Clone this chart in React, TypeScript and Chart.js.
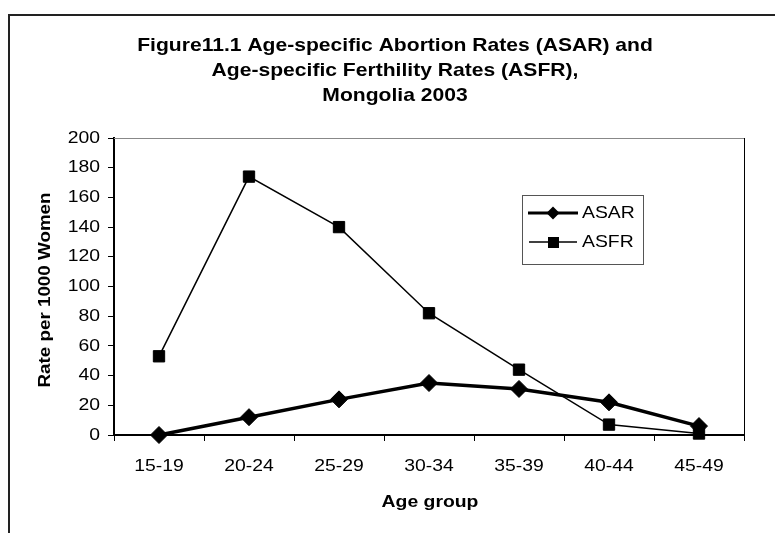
import React, { useEffect, useRef } from "react";
import { Chart, registerables } from "chart.js";

Chart.register(...registerables);

const ageGroups = ["15-19", "20-24", "25-29", "30-34", "35-39", "40-44", "45-49"];
const asarValues = [0, 12, 24, 35, 31, 22, 6];
const asfrValues = [53, 174, 140, 82, 44, 7, 1];
const seriesNames = ["ASAR", "ASFR"];
const titleLines = [
  "Figure11.1 Age-specific Abortion Rates (ASAR) and",
  "Age-specific Ferthility Rates (ASFR),",
  "Mongolia 2003",
];
const yAxisTitle = "Rate per 1000 Women";
const xAxisTitle = "Age group";
const yMin = 0;
const yMax = 200;
const yStep = 20;

const FONT = "'Liberation Sans', Arial, sans-serif";
const SX = 1.14; // horizontal stretch of text in the reference

function drawText(ctx: any, text: string, x: number, y: number, font: string, align: string, rot = 0) {
  ctx.save();
  ctx.translate(x, y);
  if (rot) ctx.rotate(rot);
  ctx.scale(SX, 1);
  ctx.font = font;
  ctx.textAlign = align;
  ctx.textBaseline = "middle";
  ctx.fillStyle = "#000";
  ctx.fillText(text, 0, 0);
  ctx.restore();
}

const decorPlugin = {
  id: "decor",
  beforeDraw(chart: any) {
    const ctx = chart.ctx;
    ctx.save();
    ctx.fillStyle = "#fff";
    ctx.fillRect(0, 0, chart.width, chart.height);
    ctx.strokeStyle = "#222";
    ctx.lineWidth = 2;
    ctx.beginPath();
    ctx.moveTo(9, 545);
    ctx.lineTo(9, 15);
    ctx.lineTo(790, 15);
    ctx.stroke();
    ctx.restore();
  },
  afterDraw(chart: any) {
    const ctx = chart.ctx;
    const a = chart.chartArea;
    const xs = chart.scales.x;
    const ys = chart.scales.y;
    ctx.save();
    // plot top / right border
    ctx.strokeStyle = "#888";
    ctx.lineWidth = 1;
    ctx.beginPath();
    ctx.moveTo(a.left, a.top + 0.5);
    ctx.lineTo(a.right, a.top + 0.5);
    ctx.stroke();
    ctx.strokeStyle = "#000";
    ctx.beginPath();
    ctx.moveTo(a.right + 0.5, a.top);
    ctx.lineTo(a.right + 0.5, a.bottom);
    ctx.stroke();

    // tick labels from the library's scales
    ys.ticks.forEach((t: any) => {
      const py = ys.getPixelForValue(t.value);
      drawText(ctx, String(t.value), 100, py, `17px ${FONT}`, "right");
    });
    xs.ticks.forEach((t: any, i: number) => {
      const px = xs.getPixelForValue(i);
      drawText(ctx, ageGroups[i], px, 466, `17px ${FONT}`, "center");
    });

    // title
    titleLines.forEach((t, i) => drawText(ctx, t, 395, 46 + i * 25, `bold 18.5px ${FONT}`, "center"));

    // axis titles
    drawText(ctx, xAxisTitle, 430, 502, `bold 17px ${FONT}`, "center");
    drawText(ctx, yAxisTitle, 45, 290, `bold 16.5px ${FONT}`, "center", -Math.PI / 2);

    // legend
    ctx.strokeStyle = "#555";
    ctx.lineWidth = 1;
    ctx.strokeRect(522.5, 195.5, 121, 69);
    ctx.strokeStyle = "#000";
    ctx.fillStyle = "#000";
    ctx.lineWidth = 3;
    ctx.beginPath();
    ctx.moveTo(528, 213);
    ctx.lineTo(578, 213);
    ctx.stroke();
    ctx.beginPath();
    ctx.moveTo(553, 206.5);
    ctx.lineTo(559.5, 213);
    ctx.lineTo(553, 219.5);
    ctx.lineTo(546.5, 213);
    ctx.closePath();
    ctx.fill();
    ctx.lineWidth = 1.5;
    ctx.beginPath();
    ctx.moveTo(529, 242);
    ctx.lineTo(577, 242);
    ctx.stroke();
    ctx.fillRect(548, 237, 11, 11);
    drawText(ctx, seriesNames[0], 582, 213, `17px ${FONT}`, "left");
    drawText(ctx, seriesNames[1], 582, 242, `17px ${FONT}`, "left");
    ctx.restore();
  },
};

export default function App() {
  const ref = useRef<HTMLCanvasElement>(null);
  useEffect(() => {
    if (!ref.current) return;
    const chart = new Chart(ref.current, {
      type: "line",
      data: {
        labels: ageGroups,
        datasets: [
          {
            label: seriesNames[0],
            data: asarValues,
            borderColor: "#000",
            backgroundColor: "#000",
            borderWidth: 3.5,
            pointStyle: "rectRot",
            pointRadius: 8.5,
            pointBorderWidth: 1,
            pointBackgroundColor: "#000",
            pointBorderColor: "#000",
            tension: 0,
            clip: false as any,
          },
          {
            label: seriesNames[1],
            data: asfrValues,
            borderColor: "#000",
            backgroundColor: "#000",
            borderWidth: 1.5,
            pointStyle: "rect",
            pointRadius: 8,
            pointBorderWidth: 1,
            pointBackgroundColor: "#000",
            pointBorderColor: "#000",
            tension: 0,
            clip: false as any,
          },
        ],
      },
      options: {
        animation: false,
        responsive: false,
        devicePixelRatio: 1,
        events: [],
        layout: { padding: { left: 0, right: 31, top: 138, bottom: 0 } },
        plugins: {
          legend: { display: false },
          tooltip: { enabled: false },
          title: { display: false },
        },
        scales: {
          x: {
            type: "category",
            offset: true,
            grid: {
              offset: true,
              drawOnChartArea: false,
              drawTicks: true,
              tickLength: 6,
              color: "#000",
              lineWidth: 1,
            },
            border: { display: true, color: "#000", width: 2 },
            ticks: { display: false, autoSkip: false, maxRotation: 0 },
            afterFit: (s: any) => {
              s.height = 98;
            },
          },
          y: {
            min: yMin,
            max: yMax,
            grid: {
              drawOnChartArea: false,
              drawTicks: true,
              tickLength: 6,
              color: "#000",
              lineWidth: 1,
            },
            border: { display: true, color: "#000", width: 2 },
            ticks: { display: false, stepSize: yStep },
            afterFit: (s: any) => {
              s.width = 114;
            },
          },
        },
      },
      plugins: [decorPlugin],
    });
    return () => chart.destroy();
  }, []);
  return (
    <div style={{ position: "fixed", left: 0, top: 0, width: 775, height: 533, background: "#fff" }}>
      <canvas ref={ref} width={775} height={533} style={{ display: "block" }} />
    </div>
  );
}
